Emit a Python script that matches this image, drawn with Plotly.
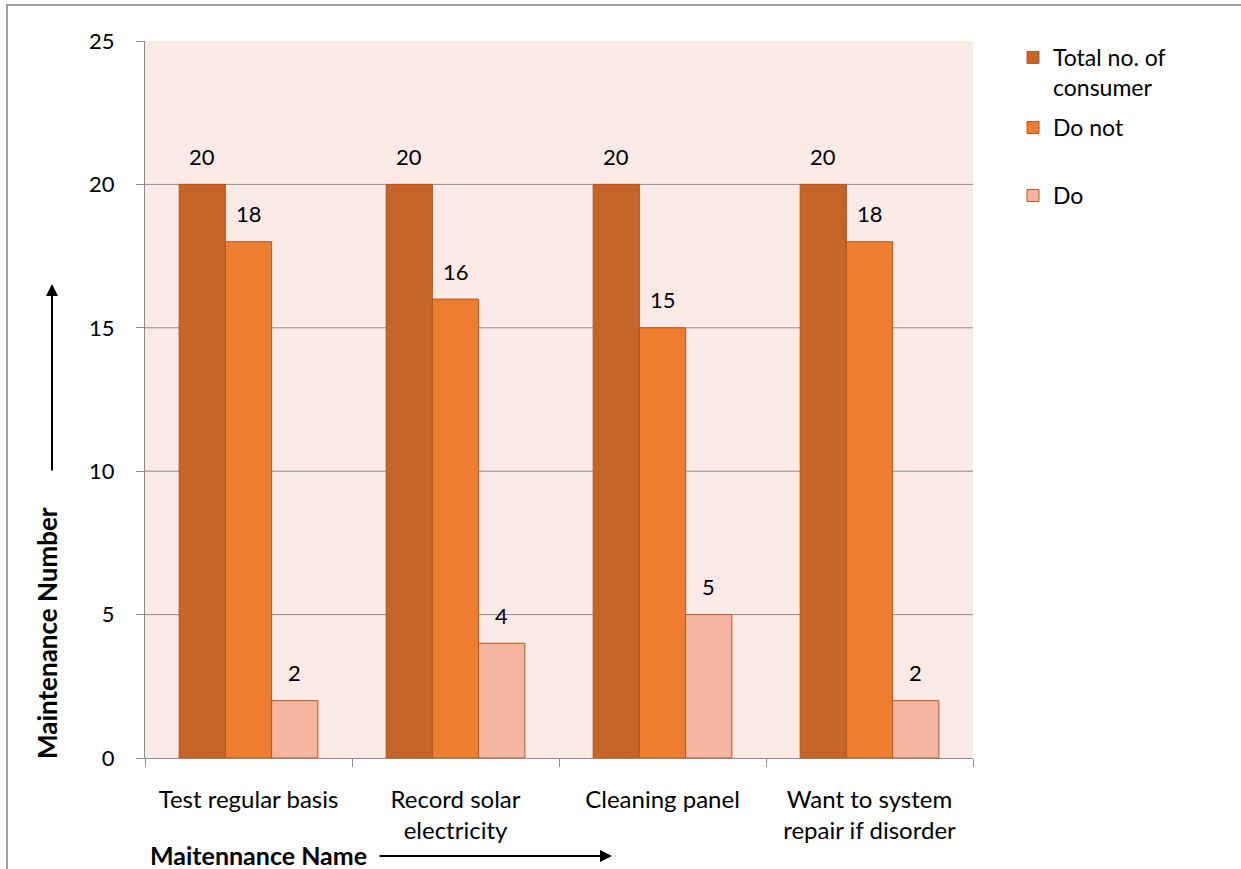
import plotly.graph_objects as go

# Maintenance survey data
categories = ["Test regular basis", "Record solar<br>electricity", "Cleaning panel",
              "Want to system<br>repair if disorder"]
total_consumers = [20, 20, 20, 20]
do_not = [18, 16, 15, 18]
do = [2, 4, 5, 2]
y_ticks = [0, 5, 10, 15, 20, 25]

W, H = 1241, 869
L, R, T, B = 145, 973, 41, 758  # plot area in pixels


def px(x):
    return (x - L) / (R - L)


def py(y):
    return (B - y) / (B - T)


FONT = "Lato, 'Open Sans', sans-serif"
NUM_SIZE = 22
edge = dict(color="#B5561F", width=1)
BARGAP = 0.33

series = [
    ("Total no. of<br>consumer", total_consumers, "#C4652A", "legend"),
    ("Do not", do_not, "#ED7D31", "legend2"),
    ("Do", do, "#F4B6A2", "legend3"),
]

fig = go.Figure()
for name, vals, color, leg in series:
    fig.add_trace(go.Bar(x=categories, y=vals, name=name, legend=leg,
                         marker=dict(color=color, line=edge)))

# value labels above each bar, placed at the bar centres within each group
annotations = []
bar_w = (1 - BARGAP) / len(series)
for s_idx, (_, vals, _, _) in enumerate(series):
    offset = (s_idx - (len(series) - 1) / 2) * bar_w
    for c_idx, v in enumerate(vals):
        annotations.append(dict(x=c_idx + offset, y=v, xref="x", yref="y", text=str(v),
                                showarrow=False, xanchor="center", yanchor="middle",
                                yshift=28, font=dict(family=FONT, size=NUM_SIZE, color="black")))

legend_style = dict(font=dict(family=FONT, size=23, color="black"), bgcolor="rgba(0,0,0,0)",
                    xanchor="left", yanchor="top", valign="top",
                    itemclick=False, itemdoubleclick=False)

shapes = []
# horizontal gridlines
for v in y_ticks[1:-1]:
    shapes.append(dict(type="line", xref="paper", yref="y", x0=0, x1=1, y0=v, y1=v,
                       line=dict(color="#8C8C8C", width=1), layer="below"))
# outer frame (left and top edges)
shapes.append(dict(type="line", xref="paper", yref="paper", x0=px(7), x1=px(7),
                   y0=py(4), y1=py(870), line=dict(color="#A0A0A0", width=2)))
shapes.append(dict(type="line", xref="paper", yref="paper", x0=px(6), x1=px(1241),
                   y0=py(5), y1=py(5), line=dict(color="#A0A0A0", width=2)))

annotations += [
    dict(text="<b>Maintenance Number</b>", xref="paper", yref="paper", x=px(47), y=py(633),
         xanchor="center", yanchor="middle", textangle=-90, showarrow=False,
         font=dict(family=FONT, size=26, color="black")),
    dict(text="", xref="paper", yref="paper", x=px(52), y=py(284), ax=0, ay=188,
         showarrow=True, arrowhead=2, arrowsize=1.2, arrowwidth=2, arrowcolor="black"),
    dict(text="<b>Maitennance Name</b>", xref="paper", yref="paper", x=px(258), y=py(855),
         xanchor="center", yanchor="middle", showarrow=False,
         font=dict(family=FONT, size=25, color="black")),
    dict(text="", xref="paper", yref="paper", x=px(612), y=py(856), ax=-234, ay=0,
         showarrow=True, arrowhead=2, arrowsize=1.2, arrowwidth=2, arrowcolor="black"),
]

fig.update_layout(
    width=W, height=H,
    margin=dict(l=L, r=W - R, t=T, b=H - B, pad=0),
    paper_bgcolor="white", plot_bgcolor="#FBEAE6",
    barmode="group", bargap=BARGAP, bargroupgap=0,
    showlegend=True,
    font=dict(family=FONT, size=22, color="black"),
    xaxis=dict(showline=True, linecolor="#8C8C8C", linewidth=1, ticks="outside",
               tickson="boundaries", ticklen=8, tickcolor="#8C8C8C",
               tickfont=dict(family=FONT, size=24, color="black"), showgrid=False,
               ticklabelstandoff=20),
    yaxis=dict(range=[0, 25], tickvals=y_ticks, showline=True, linecolor="#8C8C8C",
               linewidth=1, ticks="outside", ticklen=8, tickcolor="#8C8C8C",
               tickfont=dict(family=FONT, size=NUM_SIZE, color="black"), showgrid=False,
               zeroline=False, ticklabelstandoff=17),
    legend=dict(x=px(1013), y=py(36), **legend_style),
    legend2=dict(x=px(1013), y=py(106), **legend_style),
    legend3=dict(x=px(1013), y=py(174), **legend_style),
    shapes=shapes, annotations=annotations,
)

fig.write_html("out.html")
